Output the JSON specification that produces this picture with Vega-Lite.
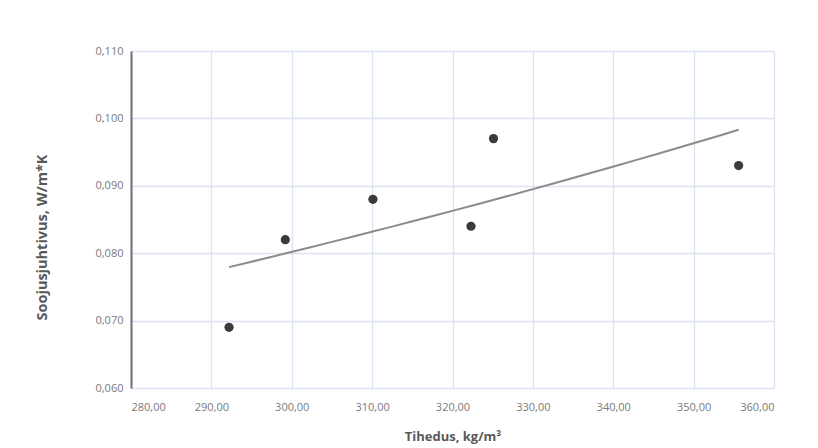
{
  "$schema": "https://vega.github.io/schema/vega-lite/v6.json",
  "width": 643,
  "height": 337,
  "padding": {"left": 131, "top": 51, "right": 44, "bottom": 60},
  "autosize": {"type": "none"},
  "background": "white",
  "data": {
    "values": [
      {"tihedus": 292.2, "soojus": 0.069},
      {"tihedus": 299.2, "soojus": 0.082},
      {"tihedus": 310.1, "soojus": 0.088},
      {"tihedus": 322.3, "soojus": 0.084},
      {"tihedus": 325.1, "soojus": 0.097},
      {"tihedus": 355.6, "soojus": 0.093}
    ]
  },
  "config": {
    "view": {"stroke": null},
    "axis": {
      "labelFont": "Open Sans",
      "titleFont": "Open Sans",
      "labelColor": "#7a7a7a",
      "titleColor": "#595959",
      "labelFontSize": 11,
      "titleFontSize": 13,
      "titleFontWeight": "bold",
      "gridColor": "#dbe2f1",
      "gridWidth": 1.3,
      "ticks": false
    }
  },
  "layer": [
    {
      "transform": [
        {"regression": "soojus", "on": "tihedus", "method": "exp"}
      ],
      "mark": {"type": "line", "color": "#8c8c8c", "strokeWidth": 2},
      "encoding": {
        "x": {"field": "tihedus", "type": "quantitative"},
        "y": {"field": "soojus", "type": "quantitative"}
      }
    },
    {
      "mark": {"type": "circle", "color": "#3a3a3a", "opacity": 1, "size": 85},
      "encoding": {
        "x": {
          "field": "tihedus",
          "type": "quantitative",
          "scale": {"domain": [280, 360], "nice": false, "zero": false},
          "axis": {
            "title": "Tihedus, kg/m³",
            "values": [280, 290, 300, 310, 320, 330, 340, 350, 360],
            "labelExpr": "replace(format(datum.value, '.2f'), '.', ',')",
            "domain": false,
            "labelPadding": 13,
            "titlePadding": 18
          }
        },
        "y": {
          "field": "soojus",
          "type": "quantitative",
          "scale": {"domain": [0.06, 0.11], "nice": false, "zero": false},
          "axis": {
            "title": "Soojusjuhtivus, W/m*K",
            "titleFontSize": 14.5,
            "titleY": 186,
            "values": [0.06, 0.07, 0.08, 0.09, 0.1, 0.11],
            "labelExpr": "replace(format(datum.value, '.3f'), '.', ',')",
            "domain": true,
            "domainColor": "#6e6e6e",
            "domainWidth": 2,
            "labelPadding": 8,
            "titlePadding": 45
          }
        }
      }
    }
  ]
}
